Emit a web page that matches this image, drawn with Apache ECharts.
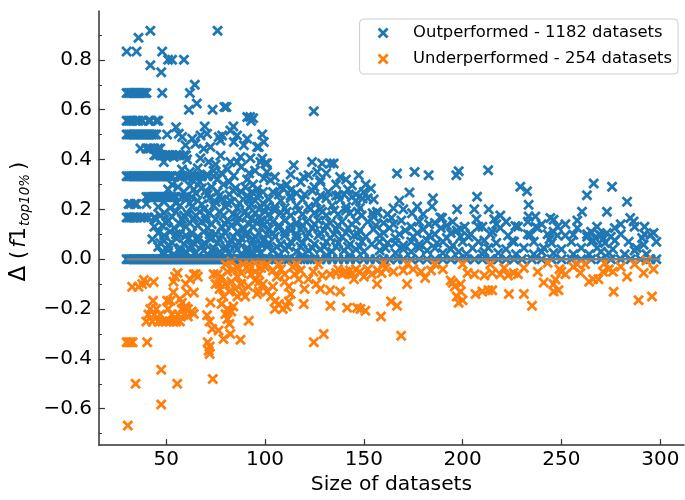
<!DOCTYPE html>
<html>
<head>
<meta charset="utf-8">
<script src="https://cdn.jsdelivr.net/npm/echarts@6/dist/echarts.min.js"></script>
<style>
  html, body { margin: 0; padding: 0; background: #ffffff; }
  #chart { width: 685px; height: 500px; }
</style>
</head>
<body>
<div id="chart"></div>
<script>
// Change in top-10% F1 per dataset, plotted against dataset size.

// Datasets whose Δ is exactly 0 (counted as outperformed).
const tieSizes = [
  30,31,32,33,34,35,36,37,38,39,40,41,42,43,44,45,46,47,48,49,50,51,52,53,54,55,56,57,58,59,
  60,61,62,63,64,65,66,67,68,69,70,71,72,73,74,75,76,77,78,79,80,81,82,83,84,85,86,87,88,89,
  90,91,92,93,94,95,96,97,98,99,100,102,105,107,110,112,115,118,120,123,125,128,131,134,137,
  140,143,146,150,153,156,160,163,167,170,174,178,182,186,190,194,198,202,206,210,214,218,222,
  226,230,235,240,245,250,255,260,265,270,275,280,285,290,295,298
];

// Outperformed datasets: [size, Δ]
const outperformed = [
  // small datasets, discrete levels
  [30,.833],[35,.833],[48,.833],
  [30,.667],[31,.667],[32,.667],[33,.667],[34,.667],[35,.667],[36,.667],[37,.667],[38,.667],[39,.667],[40,.667],[48,.667],
  [30,.556],[31,.556],[32,.556],[33,.556],[35,.556],[36,.556],[38,.556],[41,.556],[42,.556],[45,.556],[46,.556],
  [30,.5],[31,.5],[32,.5],[33,.5],[34,.5],[35,.5],[36,.5],[37,.5],[38,.5],[39,.5],[40,.5],[41,.5],[42,.5],[43,.5],[44,.5],[45,.5],[50.5,.5],
  [37,.444],[40,.444],[41,.444],[42,.444],[44,.444],[46,.444],[47,.444],
  [44,.417],[45,.417],[47,.417],[48,.417],[50,.417],[51,.417],[52,.417],[53,.417],[55,.417],[57,.417],[59,.417],[60,.417],
  [30,.333],[31,.333],[32,.333],[33,.333],[34,.333],[35,.333],[36,.333],[37,.333],[38,.333],[39,.333],[40,.333],[41,.333],
  [42,.333],[43,.333],[44,.333],[45,.333],[46,.333],[47,.333],[48,.333],[49,.333],[50,.333],[51,.333],[52,.333],[53,.333],
  [56,.333],[58,.333],[60,.333],[62,.333],[64,.333],[66,.333],[68,.333],[71,.333],[74,.333],
  [40,.25],[41,.25],[42,.25],[43,.25],[44,.25],[45,.25],[46,.25],[47,.25],[48,.25],[49,.25],[50,.25],[51,.25],[52,.25],[53,.25],[54,.25],[55,.25],[60,.25],[63,.25],
  [31,.222],[32,.222],[34,.222],[35,.222],[40,.222],
  [30,.167],[31,.167],[32,.167],[33,.167],[34,.167],[35,.167],[37,.167],[39,.167],[41,.167],[44,.167],
  // upper scatter
  [42,.917],[76,.917],[36,.889],[51,.8],[53,.8],[59,.8],[42,.778],[47.5,.75],[64.5,.7],[62,.667],[65.5,.625],
  [61.5,.6],[73.5,.6],[79.5,.611],[80.5,.611],[91,.571],[92.5,.571],[93,.556],[94,.566],[124.7,.594],
  [55,.53],[69.5,.533],[84,.533],[98.6,.5],
  [56.4,.503],[58.1,.49],[63.2,.483],[67.4,.496],[70.7,.503],[76.6,.49],[78.3,.496],[82.5,.516],[85.9,.496],[91,.483],
  [59.8,.457],[64.8,.463],[69,.443],[72.4,.45],[77.5,.476],[84.2,.47],[89.3,.457],[96,.45],[99.4,.47],[96.8,.45],
  [48.8,.39],[53.8,.41],[60.6,.4],[67.3,.405],[71.5,.39],[77.5,.415],[82.5,.39],[87.6,.41],[92.6,.405],[97.7,.39],[101,.385],
  [98.6,.404],[100.2,.384],[86,.39],[75,.38],
  [58,.36],[66,.365],[74,.355],[81,.36],[88,.37],[95,.355],[62,.35],[78,.345],[92,.345],
  [57.2,.33],[63.2,.32],[70.7,.34],[75.8,.32],[84.2,.335],[91,.32],[99.4,.325],[101,.35],[102.8,.317],
  // dense mass 45-100
  [53,.3],[67,.31],[82,.31],[94,.3],
  [56,.29],[62,.295],[68,.285],[73,.29],[79,.3],[85,.285],[90,.29],[96,.28],
  [51,.28],[58,.25],[64,.28],[71,.26],[77,.255],[84,.275],[91,.255],[97,.26],
  [59,.27],[65,.265],[70,.275],[76,.27],[82,.26],[88,.27],[93.5,.27],[99,.27],
  [60,.24],[66,.235],[72,.245],[78,.24],[83,.23],[89,.24],[91.8,.244],[95,.235],
  [49,.23],[55,.225],[62,.225],[68,.22],[75,.23],[81,.225],[87,.225],[93,.22],[99,.225],
  [46,.21],[52,.205],[57,.215],[63,.21],[69,.2],[74,.215],[80,.21],[86,.205],[92,.21],[97,.2],
  [49,.185],[55,.19],[61,.18],[67,.19],[72,.185],[77,.19],[84,.18],[90,.19],[95,.185],[100,.19],
  [47,.175],[53,.17],[59,.175],[65,.175],[70,.17],[79,.175],[85,.17],[91,.175],[97,.17],
  [45,.16],[51,.155],[58,.16],[64,.165],[70,.155],[75,.16],[81,.155],[87,.165],[93,.16],[98,.155],
  [50,.145],[57,.14],[62,.145],[68,.15],[73,.14],[80,.14],[86,.145],[92,.14],[96,.145],
  [44,.13],[48,.135],[54,.125],[60,.13],[66,.135],[71,.125],[78,.13],[83,.135],[89,.125],[94,.13],[99,.135],
  [46,.105],[52,.11],[57,.1],[63,.105],[69,.11],[75,.1],[80,.105],[86,.11],[91,.1],[97,.105],
  [49,.095],[55,.1],[60,.095],[66,.09],[72,.1],[78,.095],[84,.09],[90,.095],[95,.09],
  [43,.08],[49,.075],[55,.085],[61,.08],[66,.075],[72,.085],[77,.08],[83,.075],[88,.085],[94,.08],[99,.075],
  [47,.065],[53,.065],[59,.06],[64,.065],[70,.06],[76,.065],[82,.06],[87,.065],[93,.06],[98,.06],
  [46,.05],[51,.055],[57,.045],[63,.05],[68,.055],[74,.045],[80,.05],[85,.055],[91,.045],[96,.05],
  [51,.035],[57,.03],[62,.04],[69,.035],[74,.03],[80,.035],[86,.04],[91,.03],[96,.035],
  [48,.025],[54,.02],[60,.03],[65,.025],[71,.02],[77,.03],[82,.025],[88,.02],[93,.03],[98,.025],
  // 100-150
  [107.8,.29],[109.3,.284],[112.9,.277],[114.5,.377],[123.8,.39],[128.9,.384],[133.1,.384],[134.8,.384],[119.6,.33],[122,.337],
  [126.4,.35],[128,.317],[128,.31],[144,.297],[147.4,.337],[137.3,.257],[153.6,.284],
  [111,.3],[118,.31],[125,.29],[136,.3],[141,.32],[105,.33],[113,.34],[131,.345],[138,.33],
  [142,.28],[146,.26],[150,.27],[152,.245],
  [104,.27],[116,.265],[124,.275],[132,.27],[140,.26],
  [107,.26],[113,.255],[120,.26],[128,.255],[136,.255],[144,.25],
  [102,.24],[108,.235],[113,.245],[119,.24],[126,.23],[131,.245],[138,.24],[146,.235],
  [105,.21],[110,.205],[116,.215],[122,.21],[128,.2],[134,.215],[141,.21],[148,.205],[101,.21],
  [105,.195],[111,.19],[117,.195],[123,.2],[129,.19],[135,.195],[141,.195],[147,.19],
  [102,.18],[108,.185],[113,.175],[119,.18],[125,.185],[131,.175],[137,.18],[143,.185],[149,.175],
  [104,.15],[110,.155],[116,.145],[121,.15],[127,.155],[133,.145],[139,.15],[146,.155],[101,.15],
  [107,.135],[113,.135],[119,.135],[125,.14],[131,.135],[137,.135],[144,.14],
  [102,.12],[107,.125],[113,.115],[118,.12],[124,.125],[130,.115],[136,.12],[142,.125],[148,.115],
  [104,.105],[110,.11],[116,.1],[122,.105],[128,.105],[135,.1],[141,.105],[147,.1],[101,.1],
  [105,.09],[110,.095],[116,.085],[121,.09],[127,.095],[133,.085],[139,.09],[145,.095],
  [102,.065],[108,.06],[113,.07],[119,.065],[125,.06],[131,.07],[137,.065],[143,.06],[149,.07],
  [106,.05],[112,.05],[118,.05],[124,.045],[130,.05],[136,.05],[142,.05],[148,.05],[101,.05],
  [104,.035],[110,.04],[116,.03],[122,.035],[128,.04],[134,.03],[140,.035],[146,.04],
  [107,.015],[119,.015],[131,.015],[143,.015],
  // 150-200
  [156.7,.19],[165,.204],[164,.165],[177,.211],[174.4,.184],[184.5,.211],[188.7,.167],[155,.17],[157,.185],
  [166.8,.344],[175.7,.35],[182.8,.337],[173.1,.268],[149.4,.244],[154.4,.184],[151,.3],
  [155,.24],[168,.235],[185,.245],[162,.18],[170,.2],[180,.18],
  [152,.15],[160,.145],[169,.155],[178,.15],[186,.145],[195,.15],
  [156,.135],[165,.14],[174,.13],[183,.14],[192,.135],
  [155,.12],[163,.125],[171,.115],[180,.12],[189,.125],[197,.115],
  [160,.105],[168,.1],[177,.105],[186,.1],[194,.105],
  [151,.09],[158,.095],[166,.085],[175,.09],[183,.095],[192,.085],[199,.09],
  [158,.07],[166,.065],[174,.07],[182,.075],[190,.07],
  [154,.06],[162,.065],[170,.055],[178,.06],[187,.065],[195,.055],
  [161,.045],[170,.04],[178,.045],[186,.045],[194,.04],
  [150,.03],[158,.035],[166,.025],[174,.03],[182,.035],[190,.025],[198,.03],
  // 200-300
  [196.8,.337],[198,.353],[212.9,.357],[207.3,.251],[197.2,.2],[205.9,.2],[213.2,.2],[219.1,.175],[189.6,.165],
  [229.2,.291],[232.6,.273],[233.4,.218],[233.4,.171],[236.8,.171],[244.4,.165],[246,.158],
  [262.9,.257],[266.3,.304],[275.6,.291],[283.2,.231],[260.4,.19],[273,.19],[284.8,.165],[286.5,.151],
  [290.8,.085],[295,.098],[296.6,.105],[291.6,.058],[256,.098],
  [199,.12],[203,.09],[208,.13],[211,.075],[215,.11],[217,.14],[226.7,.133],[234.3,.097],[225,.073],[233,.15],[237,.13],
  [244,.08],[246,.11],[248,.095],
  [207,.16],[216,.16],[222,.15],[240,.14],[252,.14],[258,.155],[280,.14],[292,.13],
  [263,.09],[265,.11],[267,.085],[269,.1],[271,.08],[273,.105],[275,.09],[277,.075],[266,.075],
  [201,.13],[210,.13],[219,.125],[228,.13],[238,.125],[248,.13],[258,.125],[268,.13],[277,.125],[287,.13],
  [204,.1],[214,.1],[223,.095],[233,.1],[243,.1],[252,.095],[263,.1],[270,.095],[280,.1],[292,.1],
  [200,.07],[208,.07],[217,.065],[226,.07],[236,.07],[245,.065],[255,.07],[265,.07],[272,.065],[284,.07],[298,.07],
  [205,.045],[213,.045],[222,.04],[231,.045],[241,.045],[250,.04],[260,.045],[268,.045],[276,.04],[288,.045],
  [211,.03],[240,.03],[270,.03],[287,.035],
  [202,.02],[210,.02],[218,.025],[227,.02],[236,.02],[246,.025],[256,.02],[264,.02],[274,.025],[282,.02],[293,.02]
];

// Underperformed datasets: [size, Δ]
const underperformed = [
  [30.6,-.667],[34.5,-.5],[47.5,-.444],[47.5,-.583],[55.6,-.5],[73.6,-.481],
  [30,-.333],[31,-.333],[32,-.333],[33,-.333],[40.4,-.333],
  [32.8,-.111],[36,-.111],[37.9,-.1],[38.7,-.083],[40,-.095],[43.7,-.091],[43.4,-.167],
  [40,-.25],[41,-.222],[43,-.25],[44,-.222],[46,-.25],[47,-.222],[48,-.25],[50,-.25],[51,-.2],[52,-.25],[53,-.222],
  [54,-.25],[55,-.25],[56,-.222],[57,-.25],[58,-.2],[59,-.222],[42,-.2],[45,-.2],
  [50.5,-.167],[52.2,-.167],[57,-.16],[58,-.175],[59.8,-.19],[60,-.2],[61,-.23],
  [53.7,-.09],[54.5,-.07],[55.7,-.055],[60,-.1],[62,-.08],[64,-.06],[65,-.06],[66,-.07],[53.7,-.133],
  [60.6,-.134],[64,-.134],[61,-.2],[63,-.21],[64,-.22],
  [72.4,-.174],[70.7,-.225],[72,-.25],[73.3,-.28],[71,-.333],[72,-.35],[71.5,-.367],[72,-.38],
  [76.5,-.286],[79,-.32],[82.5,-.3],[87.6,-.323],[91.8,-.247],
  [81,-.2],[81,-.24],[82,-.26],[80,-.22],[83,-.21],[78,-.18],[84,-.19],[79,-.15],[82,-.13],[85,-.12],
  [80,-.1],[83,-.09],[86,-.07],[78,-.07],[81,-.05],[84,-.04],[88,-.055],[76,-.06],[75,-.1],[77,-.12],[86,-.15],[88,-.1],
  [74,-.06],[77,-.1],[87.6,-.1],[89,-.13],[90,-.15],[91.6,-.11],[93,-.06],[95,-.085],[97,-.09],
  [80,-.02],[83,-.01],[86,-.03],[89,-.02],[92,-.04],[95,-.015],[98,-.035],[101,-.02],[104,-.045],[107,-.02],
  [98,-.015],[100,-.03],[97,-.06],[95,-.05],[99,-.1],[101,-.13],[103,-.15],[105,-.17],[104,-.11],[97,-.13],[96,-.14],
  [106,-.07],[108,-.04],[110,-.06],[105,-.2],[107,-.18],[109,-.2],[111,-.19],[112,-.17],[113,-.14],[112,-.11],
  [110,-.09],[115,-.06],[114,-.03],[117,-.08],[119.6,-.18],[118,-.045],
  [124.7,-.333],[129.7,-.3],[168.9,-.307],
  [133.1,-.187],[141.6,-.195],[146.6,-.195],[148.3,-.2],[150.8,-.207],[158.7,-.23],[163.8,-.17],[166.8,-.187],
  [156.7,-.1],[171.9,-.1],[128,-.12],[133,-.125],[138,-.13],
  [124.5,-.05],[129,-.065],[133,-.06],[136,-.055],[140,-.055],[143,-.045],[148,-.05],[152,-.04],[157,-.045],
  [161,-.035],[165,-.05],[170,-.045],[175,-.04],[179,-.05],[184,-.045],[181,-.075],
  [122,-.08],[126,-.1],[120,-.12],[145,-.08],[150,-.07],
  [137,-.04],[139,-.06],[141,-.05],[144,-.06],[146,-.04],[154,-.06],[159,-.055],
  [194,-.085],[196,-.11],[197,-.15],[198,-.175],[199,-.13],[200,-.165],[199,-.1],[195,-.095],
  [202.5,-.055],[206,-.06],[211,-.065],[215,-.055],[219,-.06],[223,-.065],[225.8,-.055],
  [206.5,-.14],[210,-.13],[213,-.125],[215,-.125],[223.4,-.14],[231,-.14],[235.1,-.187],[221,-.035],[231,-.035],
  [241,-.094],[247,-.081],[246,-.13],[248.5,-.125],[246,-.1],[249,-.04],[252,-.06],[250,-.05],[259.6,-.055],
  [266,-.08],[268.7,-.08],[264,-.09],[271,-.05],[276,-.05],[274,-.04],[276.4,-.131],[283.2,-.07],
  [289,-.165],[291.6,-.055],[293,-.005],[296.6,-.04],[295.8,-.15],
  [186,-.02],[190,-.04],[228,-.06],[238,-.05],[256,-.03],[262,-.02],[280,-.03],
  [92,-.02],[116,-.02],[127,-.02],[160,-.015],[172,-.02],[200,-.02],[214,-.02],[243,-.015],[258,-.02],[272,-.015],[287,-.02]
];

// Reference line at Δ = 0 spanning the size range
const sizeRange = [30, 300];

const majorY = [-0.6, -0.4, -0.2, 0, 0.2, 0.4, 0.6, 0.8];
const minorY = [-0.7, -0.5, -0.3, -0.1, 0.1, 0.3, 0.5, 0.7, 0.9];
const majorX = [50, 100, 150, 200, 250, 300];

// "x" marker drawn as a filled outline
const crossMark = 'path://M0,1.8 L1.8,0 L5,3.2 L8.2,0 L10,1.8 L6.8,5 L10,8.2 L8.2,10 L5,6.8 L1.8,10 L0,8.2 L3.2,5 Z';
const spine = '#333333';
const font = 'DejaVu Sans';

const chart = echarts.init(document.getElementById('chart'), null, { renderer: 'canvas' });

const fmt = v => (Math.abs(v) < 1e-9 ? 0 : v).toFixed(1).replace('-', '\u2212');

chart.setOption({
  animation: false,
  backgroundColor: '#ffffff',
  textStyle: { fontFamily: font },
  grid: { left: 98, right: 1, top: 11, bottom: 50, containLabel: false },
  legend: {
    orient: 'vertical',
    right: 7,
    top: 19,
    align: 'left',
    itemWidth: 40,
    itemHeight: 11,
    itemGap: 8,
    padding: [5, 6, 6, 18],
    borderColor: '#cccccc',
    borderWidth: 1,
    borderRadius: 4,
    backgroundColor: 'rgba(255,255,255,0.8)',
    textStyle: { fontFamily: font, fontSize: 16.4, color: '#000000', lineHeight: 18, padding: [0, 0, 0, 5] },
    data: ['Outperformed - 1182 datasets', 'Underperformed - 254 datasets']
  },
  xAxis: {
    type: 'value',
    min: 16,
    max: 312,
    name: 'Size of datasets',
    nameLocation: 'middle',
    nameGap: 29,
    nameTextStyle: { fontFamily: font, fontSize: 20.3, color: '#000000' },
    axisLine: { show: true, onZero: false, lineStyle: { color: spine, width: 1.5 } },
    axisTick: { show: true, inside: true, length: 6, customValues: majorX, lineStyle: { color: spine, width: 1.2 } },
    axisLabel: { customValues: majorX, margin: 5, fontFamily: font, fontSize: 20, color: '#000000' },
    splitLine: { show: false }
  },
  yAxis: [
    {
      type: 'value',
      min: -0.746,
      max: 0.996,
      position: 'left',
      name: '{g|\u0394}{d| (}{f|f}{d|1}{s|top10%}{p|)}',
      nameLocation: 'middle',
      nameGap: 62,
      nameRotate: 90,
      nameTextStyle: {
        padding: [0, 0, 0, 13],
        rich: {
          g: { fontFamily: font, fontSize: 23, color: '#000000', lineHeight: 26, verticalAlign: 'middle' },
          d: { fontFamily: font, fontSize: 21, color: '#000000', lineHeight: 26, verticalAlign: 'middle' },
          f: { fontFamily: font, fontSize: 21, fontStyle: 'italic', color: '#000000', lineHeight: 26, verticalAlign: 'middle', padding: [0, 0, 0, 3] },
          s: { fontFamily: font, fontSize: 13.5, fontStyle: 'italic', color: '#000000', lineHeight: 14, verticalAlign: 'bottom', padding: [0, 0, 0, 1] },
          p: { fontFamily: font, fontSize: 21, color: '#000000', lineHeight: 26, verticalAlign: 'middle', padding: [0, 0, 0, 4] }
        }
      },
      axisLine: { show: true, onZero: false, lineStyle: { color: spine, width: 1.5 } },
      axisTick: { show: true, inside: true, length: 6, customValues: majorY, lineStyle: { color: spine, width: 1.2 } },
      axisLabel: { customValues: majorY, margin: 7, fontFamily: font, fontSize: 20, color: '#000000', formatter: fmt },
      splitLine: { show: false }
    },
    {
      type: 'value',
      min: -0.746,
      max: 0.996,
      position: 'left',
      axisLine: { show: false },
      axisTick: { show: true, inside: true, length: 3, customValues: minorY, lineStyle: { color: spine, width: 1 } },
      axisLabel: { show: false },
      splitLine: { show: false }
    }
  ],
  series: [
    {
      name: 'Outperformed - 1182 datasets',
      type: 'scatter',
      symbol: crossMark,
      symbolSize: 11,
      itemStyle: { color: '#1f77b4', opacity: 1 },
      data: tieSizes.map(s => [s, 0]).concat(outperformed),
      z: 2
    },
    {
      name: 'Underperformed - 254 datasets',
      type: 'scatter',
      symbol: crossMark,
      symbolSize: 11,
      itemStyle: { color: '#ff7f0e', opacity: 1 },
      data: underperformed,
      z: 3
    },
    {
      name: 'zero',
      type: 'line',
      data: [[sizeRange[0], 0], [sizeRange[1], 0]],
      symbol: 'none',
      lineStyle: { color: '#808080', width: 2.5, cap: 'butt' },
      silent: true,
      z: 4
    }
  ]
});
</script>
</body>
</html>
